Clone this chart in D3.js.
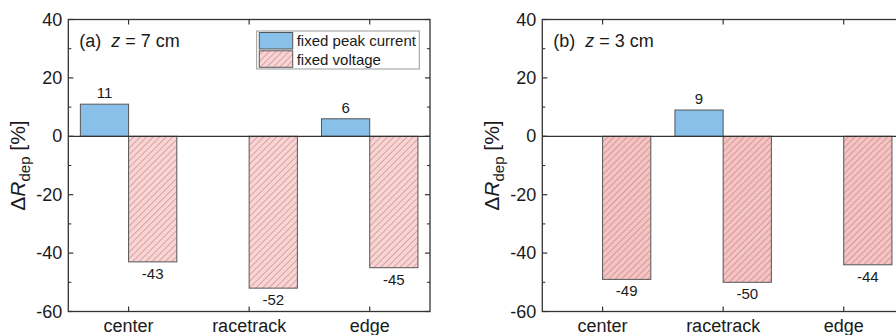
<!DOCTYPE html>
<html>
<head>
<meta charset="utf-8">
<script src="https://cdn.jsdelivr.net/npm/d3@7"></script>
<style>
  body { margin: 0; background: #fff; }
  svg { display: block; font-family: "Liberation Sans", Arial, sans-serif; }
</style>
</head>
<body>
<svg id="chart" width="896" height="335"></svg>
<script>
const categories = ['center', 'racetrack', 'edge'];
const seriesNames = ['fixed peak current', 'fixed voltage'];
const peakA = [11, null, 6];
const voltageA = [-43, -52, -45];
const peakB = [null, 9, null];
const voltageB = [-49, -50, -44];
const yTicks = [-60, -40, -20, 0, 20, 40];
const yMinorTicks = [-50, -30, -10, 10, 30];

const svg = d3.select('#chart');
const defs = svg.append('defs');

const plotW = 361.7, plotH = 292, plotTop = 19.5;
const blue = '#88c0ea';
const axisColor = '#333';

function hatch(id, fill) {
  const p = defs.append('pattern')
    .attr('id', id)
    .attr('patternUnits', 'userSpaceOnUse')
    .attr('width', 4.6).attr('height', 4.6)
    .attr('patternTransform', 'rotate(45)');
  p.append('rect').attr('width', 4.6).attr('height', 4.6).attr('fill', fill);
  p.append('line').attr('x1', 0).attr('y1', 0).attr('x2', 0).attr('y2', 4.6)
    .attr('stroke', '#9a7070').attr('stroke-width', 0.9);
}
hatch('hatchA', '#fbd3d3');
hatch('hatchB', '#f6c2c2');

function panel(left, peak, voltage, label, hatchId, legend) {
  const g = svg.append('g').attr('transform', 'translate(' + left + ',' + plotTop + ')');

  const x = d3.scaleBand().domain(categories).range([0, plotW]);
  const x1 = d3.scaleBand().domain(seriesNames).range([0.1 * x.bandwidth(), 0.9 * x.bandwidth()]);
  const y = d3.scaleLinear().domain([-60, 40]).range([plotH, 0]);

  const rows = categories.map((c, i) => ({ c, vals: [peak[i], voltage[i]] }));

  // bars
  rows.forEach(r => {
    r.vals.forEach((v, k) => {
      if (v == null) return;
      const bx = x(r.c) + x1(seriesNames[k]);
      g.append('rect')
        .attr('x', bx)
        .attr('y', y(Math.max(0, v)))
        .attr('width', x1.bandwidth())
        .attr('height', Math.abs(y(v) - y(0)))
        .attr('fill', k === 0 ? blue : 'url(#' + hatchId + ')')
        .attr('stroke', '#555')
        .attr('stroke-width', 1);
      g.append('text')
        .attr('x', bx + x1.bandwidth() / 2)
        .attr('y', v >= 0 ? y(v) - 6 : y(v) + 17)
        .attr('text-anchor', 'middle')
        .attr('font-size', 15)
        .attr('fill', '#1a1a1a')
        .text(v);
    });
  });

  // zero line
  g.append('line')
    .attr('x1', 0).attr('x2', plotW)
    .attr('y1', y(0)).attr('y2', y(0))
    .attr('stroke', axisColor).attr('stroke-width', 1.2);

  // frame
  g.append('rect')
    .attr('width', plotW).attr('height', plotH)
    .attr('fill', 'none').attr('stroke', axisColor).attr('stroke-width', 1.3);

  // y ticks (inward, both sides)
  yTicks.forEach(t => {
    g.append('line').attr('x1', 0).attr('x2', 5).attr('y1', y(t)).attr('y2', y(t))
      .attr('stroke', axisColor).attr('stroke-width', 1.2);
    g.append('line').attr('x1', plotW - 5).attr('x2', plotW).attr('y1', y(t)).attr('y2', y(t))
      .attr('stroke', axisColor).attr('stroke-width', 1.2);
    g.append('text')
      .attr('x', -6).attr('y', y(t))
      .attr('text-anchor', 'end').attr('dominant-baseline', 'central')
      .attr('font-size', 18).attr('fill', '#1a1a1a')
      .text(t);
  });
  yMinorTicks.forEach(t => {
    g.append('line').attr('x1', 0).attr('x2', 3).attr('y1', y(t)).attr('y2', y(t))
      .attr('stroke', axisColor).attr('stroke-width', 1.1);
    g.append('line').attr('x1', plotW - 3).attr('x2', plotW).attr('y1', y(t)).attr('y2', y(t))
      .attr('stroke', axisColor).attr('stroke-width', 1.1);
  });

  // x ticks (inward, top and bottom)
  categories.forEach(c => {
    const cx = x(c) + x.bandwidth() / 2;
    g.append('line').attr('x1', cx).attr('x2', cx).attr('y1', plotH - 5).attr('y2', plotH)
      .attr('stroke', axisColor).attr('stroke-width', 1.2);
    g.append('line').attr('x1', cx).attr('x2', cx).attr('y1', 0).attr('y2', 5)
      .attr('stroke', axisColor).attr('stroke-width', 1.2);
    g.append('text')
      .attr('x', cx).attr('y', plotH + 20)
      .attr('text-anchor', 'middle')
      .attr('font-size', 18).attr('fill', '#1a1a1a')
      .text(c);
  });

  // y axis title
  const title = g.append('text')
    .attr('transform', 'translate(-43,' + (plotH / 2) + ') rotate(-90)')
    .attr('text-anchor', 'middle')
    .attr('font-size', 21).attr('fill', '#1a1a1a');
  title.append('tspan').text('\u0394');
  title.append('tspan').attr('font-style', 'italic').text('R');
  title.append('tspan').attr('font-size', 15).attr('dy', 5).text('dep');
  title.append('tspan').attr('dy', -5).text(' [%]');

  // panel label
  const pl = g.append('text')
    .attr('x', 11).attr('y', 27)
    .attr('font-size', 18).attr('fill', '#1a1a1a');
  pl.append('tspan').text(label[0] + '\u00a0\u00a0');
  pl.append('tspan').attr('font-style', 'italic').text('z');
  pl.append('tspan').text(' = ' + label[1]);

  if (legend) {
    const lg = g.append('g').attr('transform', 'translate(188.4,11.5)');
    lg.append('rect').attr('width', 162.6).attr('height', 38)
      .attr('fill', '#fff').attr('stroke', '#999').attr('stroke-width', 1);
    const fills = [blue, 'url(#' + hatchId + ')'];
    seriesNames.forEach((s, i) => {
      lg.append('rect')
        .attr('x', 2.6).attr('y', 1.5 + i * 18.3)
        .attr('width', 33.4).attr('height', 16.5)
        .attr('fill', fills[i]).attr('stroke', '#555').attr('stroke-width', 1);
      lg.append('text')
        .attr('x', 40).attr('y', 9.8 + i * 18.3)
        .attr('dominant-baseline', 'central')
        .attr('font-size', 15).attr('fill', '#1a1a1a')
        .text(s);
    });
  }
}

panel(68.3, peakA, voltageA, ['(a)', '7 cm'], 'hatchA', true);
panel(542.3, peakB, voltageB, ['(b)', '3 cm'], 'hatchB', false);
</script>
</body>
</html>
